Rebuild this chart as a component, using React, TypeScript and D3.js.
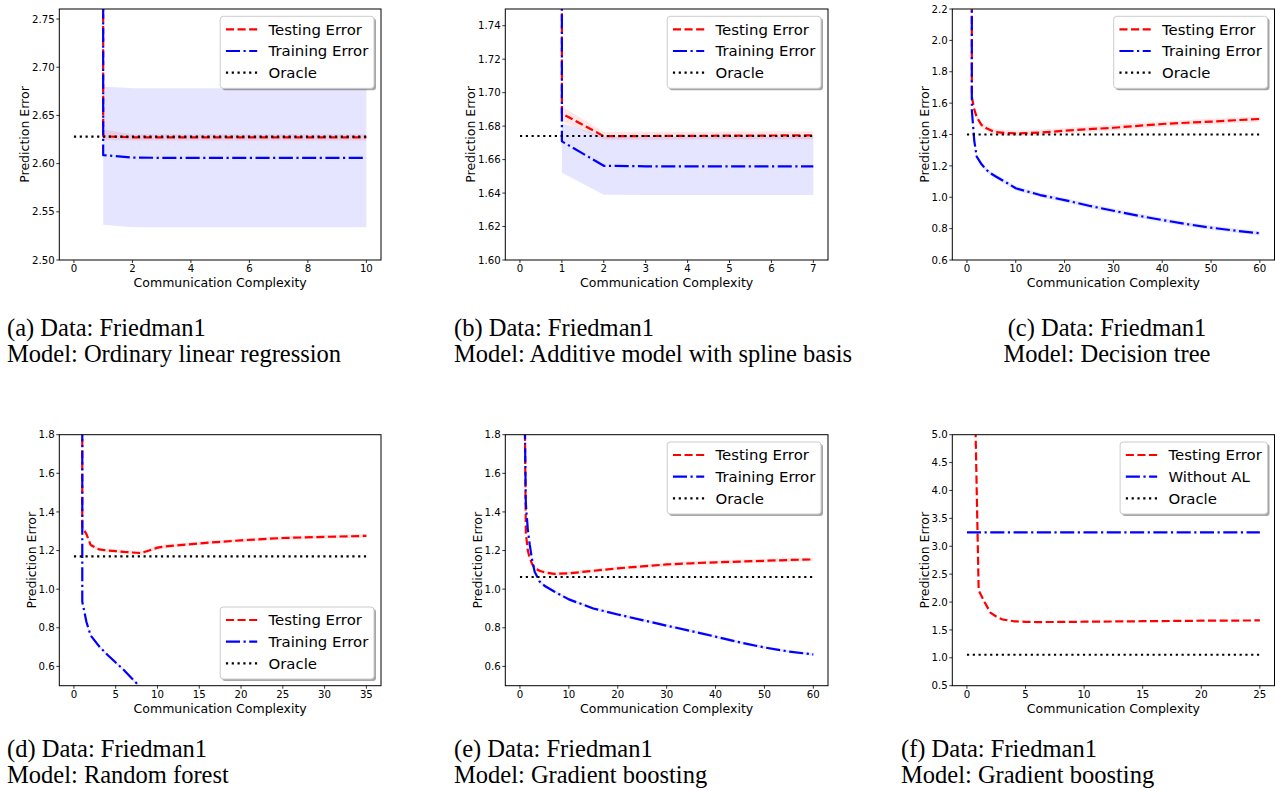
import React from "react";
import * as d3 from "d3";

// ---------------- (a) Ordinary linear regression ----------------
const aX = [1, 1, 2, 3, 4, 5, 6, 7, 8, 9, 10];
const aTest = [3.2, 2.6283, 2.6273, 2.6272, 2.6272, 2.6272, 2.6272, 2.6272, 2.6272, 2.6272, 2.6272];
const aTestLo = [3.2, 2.6245, 2.6240, 2.6240, 2.6240, 2.6240, 2.6240, 2.6240, 2.6240, 2.6240, 2.6240];
const aTestHi = [3.2, 2.6355, 2.6305, 2.6305, 2.6305, 2.6305, 2.6305, 2.6305, 2.6305, 2.6305, 2.6305];
const aTrain = [3.2, 2.6088, 2.6062, 2.6060, 2.6060, 2.6060, 2.6060, 2.6060, 2.6060, 2.6060, 2.6060];
const aTrainLo = [3.2, 2.5366, 2.5340, 2.5340, 2.5340, 2.5340, 2.5340, 2.5340, 2.5340, 2.5340, 2.5340];
const aTrainHi = [3.2, 2.6800, 2.6782, 2.6782, 2.6782, 2.6782, 2.6782, 2.6782, 2.6782, 2.6782, 2.6782];
const aOracle = 2.628;
const aXTicks = [0, 2, 4, 6, 8, 10];
const aYTicks = [2.5, 2.55, 2.6, 2.65, 2.7, 2.75];

// ---------------- (b) Additive model with spline basis ----------------
const bX = [1, 1, 2, 3, 4, 5, 6, 7];
const bTest = [1.9, 1.6875, 1.6740, 1.6741, 1.6742, 1.6743, 1.6744, 1.6745];
const bTestLo = [1.9, 1.6828, 1.6718, 1.6719, 1.6720, 1.6720, 1.6720, 1.6721];
const bTestHi = [1.9, 1.6918, 1.6765, 1.6766, 1.6767, 1.6768, 1.6769, 1.6770];
const bTrain = [1.9, 1.6709, 1.6563, 1.6560, 1.6559, 1.6559, 1.6559, 1.6559];
const bTrainLo = [1.9, 1.6522, 1.6390, 1.6389, 1.6388, 1.6388, 1.6388, 1.6388];
const bTrainHi = [1.9, 1.6818, 1.6738, 1.6738, 1.6738, 1.6738, 1.6738, 1.6738];
const bOracle = 1.6741;
const bXTicks = [0, 1, 2, 3, 4, 5, 6, 7];
const bYTicks = [1.6, 1.62, 1.64, 1.66, 1.68, 1.7, 1.72, 1.74];

// ---------------- (c) Decision tree ----------------
const cX = [1, 1, 1.5, 2, 3, 4, 5, 6, 8, 10, 15, 20, 25, 30, 35, 40, 45, 50, 55, 60];
const cTest = [2.6, 1.64, 1.56, 1.51, 1.46, 1.44, 1.425, 1.415, 1.41, 1.407, 1.412, 1.424, 1.434, 1.443, 1.455, 1.467, 1.475, 1.482, 1.491, 1.499];
const cTrain = [2.6, 1.556, 1.36, 1.259, 1.21, 1.174, 1.15, 1.131, 1.095, 1.057, 1.014, 0.982, 0.946, 0.914, 0.883, 0.855, 0.829, 0.806, 0.787, 0.77];
const cTestSpread = 0.018;
const cTrainSpread = 0.014;
const cOracle = 1.4;
const cXTicks = [0, 10, 20, 30, 40, 50, 60];
const cYTicks = [0.6, 0.8, 1.0, 1.2, 1.4, 1.6, 1.8, 2.0, 2.2];

// ---------------- (d) Random forest ----------------
const dX = [1, 1, 1.5, 2, 3, 4, 5, 6, 7, 8, 9, 10, 11, 15, 20, 25, 30, 35];
const dTest = [2.2, 1.323, 1.285, 1.229, 1.206, 1.2, 1.197, 1.193, 1.19, 1.187, 1.2, 1.215, 1.222, 1.237, 1.253, 1.265, 1.271, 1.276];
const dTrain = [2.2, 0.935, 0.83, 0.76, 0.705, 0.66, 0.62, 0.58, 0.535, 0.49, 0.455, 0.42, 0.39, 0.3, 0.22, 0.17, 0.13, 0.1];
const dTestSpread = 0.01;
const dTrainSpread = 0.008;
const dOracle = 1.17;
const dXTicks = [0, 5, 10, 15, 20, 25, 30, 35];
const dYTicks = [0.6, 0.8, 1.0, 1.2, 1.4, 1.6, 1.8];

// ---------------- (e) Gradient boosting ----------------
const eX = [1, 1.2, 1.6, 2, 2.5, 3, 4, 5, 7, 10, 15, 20, 25, 30, 35, 40, 45, 50, 55, 60];
const eTest = [1.87, 1.29, 1.2, 1.16, 1.13, 1.11, 1.095, 1.087, 1.079, 1.082, 1.095, 1.108, 1.118, 1.128, 1.134, 1.139, 1.143, 1.147, 1.151, 1.154];
const eTrain = [1.85, 1.444, 1.31, 1.23, 1.15, 1.09, 1.04, 1.018, 0.988, 0.947, 0.9, 0.869, 0.84, 0.811, 0.783, 0.754, 0.724, 0.698, 0.677, 0.662];
const eTestSpread = 0.01;
const eTrainSpread = 0.008;
const eOracle = 1.063;
const eXTicks = [0, 10, 20, 30, 40, 50, 60];
const eYTicks = [0.6, 0.8, 1.0, 1.2, 1.4, 1.6, 1.8];

// ---------------- (f) Gradient boosting (without AL) ----------------
const fX = [0, 1, 1.5, 2, 2.5, 3, 4, 5, 6, 8, 10, 15, 20, 25];
const fTest = [13, 2.21, 2.0, 1.81, 1.74, 1.69, 1.655, 1.645, 1.641, 1.643, 1.647, 1.656, 1.665, 1.67];
const fWithoutAL = 3.25;
const fOracle = 1.055;
const fXTicks = [0, 5, 10, 15, 20, 25];
const fYTicks = [0.5, 1.0, 1.5, 2.0, 2.5, 3.0, 3.5, 4.0, 4.5, 5.0];

const legendABC = ["Testing Error", "Training Error", "Oracle"];
const legendF = ["Testing Error", "Without AL", "Oracle"];

const captions = [
  ["(a) Data: Friedman1", "Model: Ordinary linear regression"],
  ["(b) Data: Friedman1", "Model: Additive model with spline basis"],
  ["(c) Data: Friedman1", "Model: Decision tree"],
  ["(d) Data: Friedman1", "Model: Random forest"],
  ["(e) Data: Friedman1", "Model: Gradient boosting"],
  ["(f) Data: Friedman1", "Model: Gradient boosting"],
];

// ---------------- layout / style ----------------
const W = 1275;
const H = 791;
const ROWS = [
  { top: 9, bottom: 260 },
  { top: 434.7, bottom: 685.7 },
];
const COLS = [
  { left: 59.3, right: 381 },
  { left: 505.3, right: 828 },
  { left: 952.3, right: 1274.5 },
];
const CAPTION_BASE = [336, 757];
const CAPTION_X = [
  { x: 7, anchor: "start" },
  { x: 454, anchor: "start" },
  { x: 1107, anchor: "middle" },
  { x: 7, anchor: "start" },
  { x: 454, anchor: "start" },
  { x: 901, anchor: "start" },
];

const SANS = "'DejaVu Sans', sans-serif";
const SERIF = "'Liberation Serif', 'Times New Roman', serif";
const LW = 2.2;
const STYLE: Record<string, { stroke: string; dash: string; band?: string }> = {
  test: { stroke: "#ff0000", dash: "8.1,3.5", band: "rgba(255,0,0,0.1)" },
  train: { stroke: "#0000ff", dash: "14.1,3.5,2.2,3.5", band: "rgba(0,0,255,0.1)" },
  oracle: { stroke: "#000000", dash: "2.2,3.6" },
};

type Series = { kind: string; xs: number[]; ys: number[]; lo?: number[]; hi?: number[] };
type PanelCfg = {
  xDomain: [number, number];
  yDomain: [number, number];
  xTicks: number[];
  yTicks: number[];
  yFmt: string;
  series: Series[];
  legend: string[];
  legendLoc: "upper" | "lower";
};

const spread = (ys: number[], s: number) => ({
  lo: ys.map((v) => v - s),
  hi: ys.map((v) => v + s),
});

const PANELS: PanelCfg[] = [
  {
    xDomain: [-0.5, 10.5],
    yDomain: [2.5, 2.7604],
    xTicks: aXTicks,
    yTicks: aYTicks,
    yFmt: ".2f",
    series: [
      { kind: "test", xs: aX, ys: aTest, lo: aTestLo, hi: aTestHi },
      { kind: "train", xs: aX, ys: aTrain, lo: aTrainLo, hi: aTrainHi },
      { kind: "oracle", xs: [0, 10], ys: [aOracle, aOracle] },
    ],
    legend: legendABC,
    legendLoc: "upper",
  },
  {
    xDomain: [-0.35, 7.35],
    yDomain: [1.6, 1.75],
    xTicks: bXTicks,
    yTicks: bYTicks,
    yFmt: ".2f",
    series: [
      { kind: "test", xs: bX, ys: bTest, lo: bTestLo, hi: bTestHi },
      { kind: "train", xs: bX, ys: bTrain, lo: bTrainLo, hi: bTrainHi },
      { kind: "oracle", xs: [0, 7], ys: [bOracle, bOracle] },
    ],
    legend: legendABC,
    legendLoc: "upper",
  },
  {
    xDomain: [-3, 63],
    yDomain: [0.6, 2.2],
    xTicks: cXTicks,
    yTicks: cYTicks,
    yFmt: ".1f",
    series: [
      { kind: "test", xs: cX, ys: cTest, ...spread(cTest, cTestSpread) },
      { kind: "train", xs: cX, ys: cTrain, ...spread(cTrain, cTrainSpread) },
      { kind: "oracle", xs: [0, 60], ys: [cOracle, cOracle] },
    ],
    legend: legendABC,
    legendLoc: "upper",
  },
  {
    xDomain: [-1.75, 36.75],
    yDomain: [0.5, 1.8],
    xTicks: dXTicks,
    yTicks: dYTicks,
    yFmt: ".1f",
    series: [
      { kind: "test", xs: dX, ys: dTest, ...spread(dTest, dTestSpread) },
      { kind: "train", xs: dX, ys: dTrain, ...spread(dTrain, dTrainSpread) },
      { kind: "oracle", xs: [0, 35], ys: [dOracle, dOracle] },
    ],
    legend: legendABC,
    legendLoc: "lower",
  },
  {
    xDomain: [-3, 63],
    yDomain: [0.5, 1.8],
    xTicks: eXTicks,
    yTicks: eYTicks,
    yFmt: ".1f",
    series: [
      { kind: "test", xs: eX, ys: eTest, ...spread(eTest, eTestSpread) },
      { kind: "train", xs: eX, ys: eTrain, ...spread(eTrain, eTrainSpread) },
      { kind: "oracle", xs: [0, 60], ys: [eOracle, eOracle] },
    ],
    legend: legendABC,
    legendLoc: "upper",
  },
  {
    xDomain: [-1.25, 26.25],
    yDomain: [0.5, 5.0],
    xTicks: fXTicks,
    yTicks: fYTicks,
    yFmt: ".1f",
    series: [
      { kind: "test", xs: fX, ys: fTest },
      { kind: "train", xs: [0, 25], ys: [fWithoutAL, fWithoutAL] },
      { kind: "oracle", xs: [0, 25], ys: [fOracle, fOracle] },
    ],
    legend: legendF,
    legendLoc: "upper",
  },
];

let _ctx: CanvasRenderingContext2D | null = null;
function measure(text: string, font: string): number {
  if (!_ctx) _ctx = document.createElement("canvas").getContext("2d");
  if (!_ctx) return text.length * 7;
  _ctx.font = font;
  return _ctx.measureText(text).width;
}

const TICK_FS = 10.2;
const LABEL_FS = 12.5;
const LEGEND_FS = 14.9;
const CAPTION_FS = 24.5;

function Panel({ p, idx }: { p: PanelCfg; idx: number }) {
  const row = ROWS[Math.floor(idx / 3)];
  const col = COLS[idx % 3];
  const { left, right } = col;
  const { top, bottom } = row;
  const x = d3.scaleLinear().domain(p.xDomain).range([left, right]);
  const y = d3.scaleLinear().domain(p.yDomain).range([bottom, top]);
  const fmt = d3.format(p.yFmt);
  const clipId = `clip-${idx}`;

  const lineOf = (s: Series) =>
    d3
      .line<number>()
      .x((_, i) => x(s.xs[i]))
      .y((v) => y(v))(s.ys) || "";
  const areaOf = (s: Series) =>
    d3
      .area<number>()
      .x((v) => x(v))
      .y0((_, i) => y(s.lo![i]))
      .y1((_, i) => y(s.hi![i]))(s.xs) || "";

  const tickFont = `${TICK_FS}px ${SANS}`;
  const maxTickW = d3.max(p.yTicks, (t) => measure(fmt(t), tickFont)) || 20;
  const yLabelX = left - 4.5 - maxTickW - 7;

  // legend
  const legFont = `${LEGEND_FS}px ${SANS}`;
  const textW = d3.max(p.legend, (t) => measure(t, legFont)) || 90;
  const padL = 5.7;
  const hLen = 31.3;
  const gap = 11.3;
  const bw = padL + hLen + gap + textW + 5.7;
  const bh = 72;
  const bx = right - 7 - bw;
  const by = p.legendLoc === "upper" ? top + 7.3 : bottom - 6.7 - bh;
  const kinds = ["test", "train", "oracle"];

  const cap = CAPTION_X[idx];
  const capBase = CAPTION_BASE[Math.floor(idx / 3)];

  return (
    <g>
      <defs>
        <clipPath id={clipId}>
          <rect x={left} y={top} width={right - left} height={bottom - top} />
        </clipPath>
      </defs>
      <g clipPath={`url(#${clipId})`}>
        {p.series
          .filter((s) => s.lo && s.hi)
          .map((s, i) => (
            <path key={"b" + i} d={areaOf(s)} fill={STYLE[s.kind].band} stroke="none" />
          ))}
        {p.series.map((s, i) => (
          <path
            key={"l" + i}
            d={lineOf(s)}
            fill="none"
            stroke={STYLE[s.kind].stroke}
            strokeWidth={LW}
            strokeDasharray={STYLE[s.kind].dash}
            strokeLinecap="butt"
            strokeLinejoin="round"
          />
        ))}
      </g>
      {/* spines */}
      <rect
        x={left}
        y={top}
        width={right - left}
        height={bottom - top}
        fill="none"
        stroke="#000"
        strokeWidth={1}
      />
      {/* x ticks */}
      {p.xTicks.map((t) => (
        <g key={"xt" + t}>
          <line x1={x(t)} x2={x(t)} y1={bottom} y2={bottom + 3} stroke="#000" strokeWidth={0.8} />
          <text
            x={x(t)}
            y={bottom + 11.8}
            textAnchor="middle"
            fontFamily={SANS}
            fontSize={TICK_FS}
            fill="#000"
          >
            {String(t)}
          </text>
        </g>
      ))}
      {/* y ticks */}
      {p.yTicks.map((t) => (
        <g key={"yt" + t}>
          <line x1={left - 3} x2={left} y1={y(t)} y2={y(t)} stroke="#000" strokeWidth={0.8} />
          <text
            x={left - 4.5}
            y={y(t)}
            dy="0.36em"
            textAnchor="end"
            fontFamily={SANS}
            fontSize={TICK_FS}
            fill="#000"
          >
            {fmt(t)}
          </text>
        </g>
      ))}
      {/* axis labels */}
      <text
        x={(left + right) / 2}
        y={bottom + 22.5}
        dy="0.35em"
        textAnchor="middle"
        fontFamily={SANS}
        fontSize={LABEL_FS}
        fill="#000"
      >
        Communication Complexity
      </text>
      <text
        transform={`translate(${yLabelX},${(top + bottom) / 2}) rotate(-90)`}
        dy="0.35em"
        textAnchor="middle"
        fontFamily={SANS}
        fontSize={LABEL_FS}
        fill="#000"
      >
        Prediction Error
      </text>
      {/* legend */}
      <rect x={bx + 2} y={by + 2} width={bw} height={bh} rx={3} fill="#4d4d4d" opacity={0.5} />
      <rect x={bx} y={by} width={bw} height={bh} rx={3} fill="#fff" stroke="#cccccc" strokeWidth={1} />
      {p.legend.map((lab, i) => {
        const ry = by + 13 + i * 21.7;
        const st = STYLE[kinds[i]];
        return (
          <g key={"lg" + i}>
            <line
              x1={bx + padL}
              x2={bx + padL + hLen}
              y1={ry}
              y2={ry}
              stroke={st.stroke}
              strokeWidth={LW}
              strokeDasharray={st.dash}
            />
            <text
              x={bx + padL + hLen + gap}
              y={ry}
              dy="0.36em"
              fontFamily={SANS}
              fontSize={LEGEND_FS}
              fill="#000"
            >
              {lab}
            </text>
          </g>
        );
      })}
      {/* caption */}
      {captions[idx].map((line, i) => (
        <text
          key={"cap" + i}
          x={cap.x}
          y={capBase + i * 26}
          textAnchor={cap.anchor as any}
          fontFamily={SERIF}
          fontSize={CAPTION_FS}
          fill="#000"
        >
          {line}
        </text>
      ))}
    </g>
  );
}

export default function App() {
  return (
    <svg
      width={W}
      height={H}
      viewBox={`0 0 ${W} ${H}`}
      style={{ position: "absolute", left: 0, top: 0, background: "#fff" }}
    >
      <rect x={0} y={0} width={W} height={H} fill="#fff" />
      {PANELS.map((p, i) => (
        <Panel key={i} p={p} idx={i} />
      ))}
    </svg>
  );
}
